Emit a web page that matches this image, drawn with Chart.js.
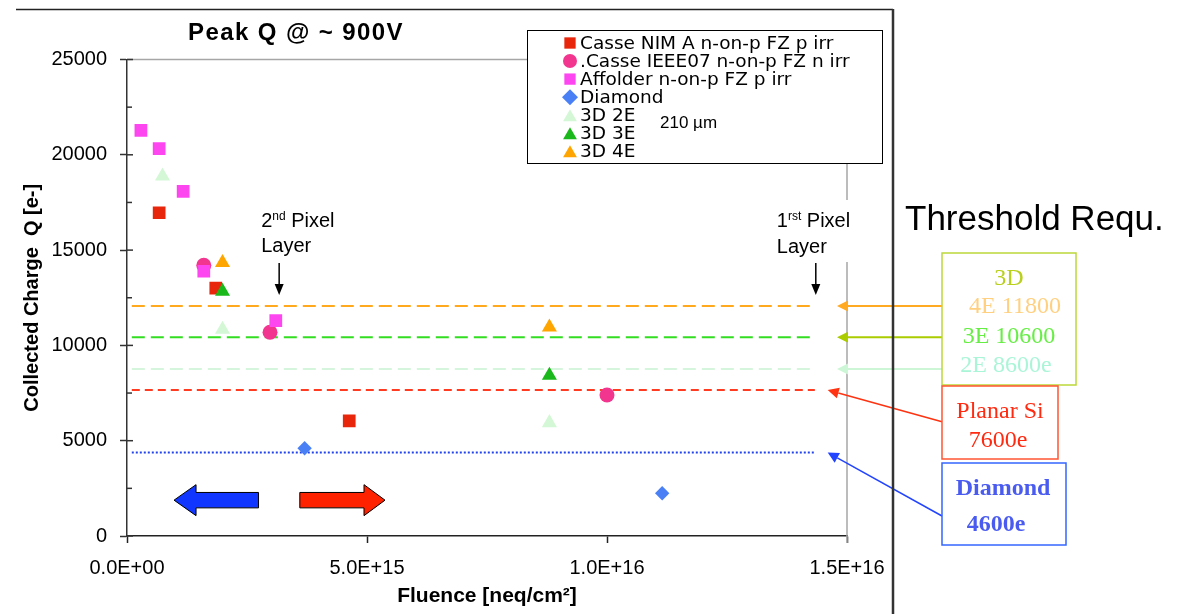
<!DOCTYPE html>
<html>
<head>
<meta charset="utf-8">
<title>Peak Q @ ~ 900V</title>
<script src="https://cdn.jsdelivr.net/npm/chart.js@4.4.1/dist/chart.umd.min.js"></script>
<style>
  html, body { margin: 0; padding: 0; background: #fff; }
  #peakChart { display: block; }
</style>
</head>
<body>
<canvas id="peakChart" width="1177" height="614"></canvas>
<script>
// ---- data (fluence in neq/cm2, charge in electrons) ----
const fluenceCasseNim = [0.67e15, 1.85e15, 4.63e15];
const chargeCasseNim = [16960, 13010, 6035];

const fluenceCasseIeee = [1.6e15, 2.98e15, 10.0e15];
const chargeCasseIeee = [14200, 10690, 7400];

const fluenceAffolder = [0.29e15, 0.67e15, 1.17e15, 1.6e15, 3.1e15];
const chargeAffolder = [21285, 20320, 18085, 13890, 11300];

const fluenceDiamond = [3.7e15, 11.15e15];
const chargeDiamond = [4600, 2240];

const fluence3D2E = [0.74e15, 1.99e15, 8.8e15];
const charge3D2E = [18880, 10840, 5940];
const fluence3D3E = [1.99e15, 8.8e15];
const charge3D3E = [12830, 8425];
const fluence3D4E = [1.99e15, 8.8e15];
const charge3D4E = [14335, 10960];

// threshold lines: 3D 4E, 3D 3E, 3D 2E, planar Si, diamond
const thresholdLevels = [12070, 10425, 8760, 7660, 4380];
const thresholdSpan = [0.1e15, 14.33e15];

// pixel layer fluences (2nd, 1st)
const layerFluence = [3.17e15, 14.35e15];

const xTickLabels = ['0.0E+00', '5.0E+15', '1.0E+16', '1.5E+16'];
const yTickLabels = ['0', '5000', '10000', '15000', '20000', '25000'];

const SANS = '"Liberation Sans", Arial, sans-serif';
const VERDANA = '"DejaVu Sans", Verdana, sans-serif';
const SERIF = '"Liberation Serif", "Times New Roman", serif';

function pts(xs, ys) {
  return xs.map((x, i) => ({ x, y: ys[i] }));
}

function markerSet(label, xs, ys, color, style, radius) {
  return {
    label,
    data: pts(xs, ys),
    backgroundColor: color,
    borderColor: color,
    pointStyle: style,
    pointRadius: radius,
    pointHoverRadius: radius,
    pointBorderWidth: 0,
    showLine: false
  };
}

function thresholdSet(level, color, dash) {
  return {
    label: 'threshold ' + level,
    isThreshold: true,
    data: pts(thresholdSpan, [level, level]),
    borderColor: color,
    borderWidth: 2,
    borderDash: dash,
    showLine: true,
    pointRadius: 0,
    pointHoverRadius: 0,
    fill: false
  };
}

const markerSets = [
  markerSet('Casse NIM A n-on-p FZ p irr', fluenceCasseNim, chargeCasseNim, '#e8260c', 'rect', 9),
  markerSet('.Casse IEEE07 n-on-p FZ n irr', fluenceCasseIeee, chargeCasseIeee, '#f2368f', 'circle', 7.5),
  markerSet('Affolder n-on-p FZ p irr', fluenceAffolder, chargeAffolder, '#fd46f0', 'rect', 9),
  markerSet('Diamond', fluenceDiamond, chargeDiamond, '#4a80f5', 'rectRot', 7.2),
  markerSet('3D 2E', fluence3D2E, charge3D2E, '#d4f7d6', 'triangle', 8.7),
  markerSet('3D 3E', fluence3D3E, charge3D3E, '#1ab81a', 'triangle', 8.7),
  markerSet('3D 4E', fluence3D4E, charge3D4E, '#ffa500', 'triangle', 8.7)
];
markerSets.forEach((ds, i) => { ds.order = markerSets.length - i; });

const thresholdColors = ['#ffaa1e', '#33dd22', '#d5f5dc', '#ff3b22', '#2244ee'];
const thresholdDashes = [[13, 6], [13, 6], [13, 6], [8, 5], [2, 2]];
const thresholdSets = thresholdLevels.map((lvl, i) => {
  const ds = thresholdSet(lvl, thresholdColors[i], thresholdDashes[i]);
  ds.order = 100;
  return ds;
});

function formatSci(v) {
  const i = Math.round(v / 5e15);
  return xTickLabels[i] !== undefined ? xTickLabels[i] : '';
}

// ---- drawing helpers ----
function blockArrow(ctx, xTail, xTip, yc, headLen, headHalf, shaftHalf, fill) {
  const dir = Math.sign(xTip - xTail);
  const xBase = xTip - dir * headLen;
  ctx.beginPath();
  ctx.moveTo(xTail, yc - shaftHalf);
  ctx.lineTo(xBase, yc - shaftHalf);
  ctx.lineTo(xBase, yc - headHalf);
  ctx.lineTo(xTip, yc);
  ctx.lineTo(xBase, yc + headHalf);
  ctx.lineTo(xBase, yc + shaftHalf);
  ctx.lineTo(xTail, yc + shaftHalf);
  ctx.closePath();
  ctx.fillStyle = fill;
  ctx.fill();
  ctx.lineWidth = 1;
  ctx.strokeStyle = '#000';
  ctx.stroke();
}

function lineArrow(ctx, x0, y0, x1, y1, color, width, headLen, headHalf) {
  const ang = Math.atan2(y1 - y0, x1 - x0);
  const bx = x1 - Math.cos(ang) * headLen;
  const by = y1 - Math.sin(ang) * headLen;
  ctx.strokeStyle = color;
  ctx.fillStyle = color;
  ctx.lineWidth = width;
  ctx.setLineDash([]);
  ctx.beginPath();
  ctx.moveTo(x0, y0);
  ctx.lineTo(bx, by);
  ctx.stroke();
  ctx.beginPath();
  ctx.moveTo(x1, y1);
  ctx.lineTo(bx - Math.sin(ang) * headHalf, by + Math.cos(ang) * headHalf);
  ctx.lineTo(bx + Math.sin(ang) * headHalf, by - Math.cos(ang) * headHalf);
  ctx.closePath();
  ctx.fill();
}

function supText(ctx, x, y, base, sup, rest, size) {
  ctx.font = size + 'px ' + SANS;
  ctx.fillText(base, x, y);
  x += ctx.measureText(base).width;
  const small = Math.round(size * 0.62);
  ctx.font = small + 'px ' + SANS;
  ctx.fillText(sup, x, y - size * 0.36);
  x += ctx.measureText(sup).width;
  ctx.font = size + 'px ' + SANS;
  ctx.fillText(' ' + rest, x, y);
}

const decorations = {
  id: 'decorations',
  beforeDatasetsDraw(chart) {
    const { ctx, chartArea: a, scales: { y } } = chart;
    ctx.save();
    // grey frame on top and right of the plot area
    ctx.strokeStyle = '#a6a6a6';
    ctx.lineWidth = 1.5;
    ctx.beginPath();
    ctx.moveTo(a.left, a.top);
    ctx.lineTo(a.right, a.top);
    ctx.lineTo(a.right, a.bottom + 7);
    ctx.stroke();
    // inside tick marks on the value axis
    ctx.strokeStyle = '#333';
    ctx.lineWidth = 1.5;
    y.ticks.forEach(t => {
      const py = y.getPixelForValue(t.value);
      const len = t.value % 5000 === 0 ? 6 : 5;
      ctx.beginPath();
      ctx.moveTo(a.left, py);
      ctx.lineTo(a.left + len, py);
      ctx.stroke();
    });
    ctx.restore();
  },
  afterDatasetsDraw(chart) {
    const { ctx, scales: { x, y } } = chart;
    ctx.save();
    ctx.setLineDash([]);

    // big direction arrows
    const yArrow = y.getPixelForValue(1880);
    blockArrow(ctx, x.getPixelForValue(2.74e15), x.getPixelForValue(0.98e15), yArrow, 22, 15.5, 7.7, '#1136ff');
    blockArrow(ctx, x.getPixelForValue(3.6e15), x.getPixelForValue(5.375e15), yArrow, 21, 15.5, 7.7, '#ff2200');

    // pixel layer labels
    const lx2 = x.getPixelForValue(layerFluence[0]);
    const lx1 = x.getPixelForValue(layerFluence[1]);
    ctx.fillStyle = '#fff';
    ctx.fillRect(lx1 - 44, 200, 92, 62);
    ctx.fillStyle = '#000';
    ctx.textAlign = 'left';
    ctx.textBaseline = 'alphabetic';
    supText(ctx, lx2 - 18, 227, '2', 'nd', 'Pixel', 20);
    ctx.font = '20px ' + SANS;
    ctx.fillText('Layer', lx2 - 18, 252);
    supText(ctx, lx1 - 39, 227, '1', 'rst', 'Pixel', 20);
    ctx.font = '20px ' + SANS;
    ctx.fillText('Layer', lx1 - 39, 253);
    [lx2, lx1].forEach(px => lineArrow(ctx, px, 263, px, 295, '#000', 1.5, 11, 4.5));

    // legend box
    ctx.fillStyle = '#fff';
    ctx.fillRect(527.5, 30.5, 355, 133);
    ctx.strokeStyle = '#000';
    ctx.lineWidth = 1;
    ctx.strokeRect(527.5, 30.5, 355, 133);
    const items = chart.data.datasets.filter(ds => !ds.isThreshold);
    items.forEach((ds, i) => {
      const ry = 43 + i * 18.05;
      ctx.fillStyle = ds.backgroundColor;
      Chart.helpers.drawPoint(ctx, { pointStyle: ds.pointStyle, radius: ds.pointStyle === 'circle' ? 7 : 8, rotation: 0, borderWidth: 0 }, 570, ds.pointStyle === 'triangle' ? ry + 2 : ry);
      ctx.fillStyle = '#000';
      ctx.font = '18.5px ' + VERDANA;
      ctx.textBaseline = 'middle';
      ctx.fillText(ds.label, 580, ry + 1);
    });
    ctx.font = '17px ' + SANS;
    ctx.fillText('210 \u00b5m', 660, 123);

    // threshold boxes and arrows on the right
    ctx.textBaseline = 'alphabetic';
    ctx.font = '35px ' + SANS;
    ctx.fillStyle = '#000';
    ctx.fillText('Threshold Requ.', 905, 230);

    const tipY = thresholdLevels.map(v => y.getPixelForValue(v));
    lineArrow(ctx, 942, tipY[0], 837, tipY[0], '#ffaa22', 2, 11, 5.5);
    lineArrow(ctx, 942, tipY[1], 837, tipY[1], '#aacc00', 2, 11, 5.5);
    lineArrow(ctx, 942, tipY[2], 837, tipY[2], '#cdf6d6', 2, 11, 5.5);
    lineArrow(ctx, 942, 421.7, 827.7, tipY[3], '#ff3311', 1.5, 11, 5.5);
    lineArrow(ctx, 942, 516, 827.7, tipY[4], '#2244ff', 1.5, 11, 5.5);

    ctx.lineWidth = 1.5;
    ctx.fillStyle = '#fff';
    ctx.strokeStyle = '#bcd83a';
    ctx.fillRect(942, 253, 134, 132);
    ctx.strokeRect(942, 253, 134, 132);
    ctx.strokeStyle = '#ff5533';
    ctx.fillRect(942, 386, 116, 73);
    ctx.strokeRect(942, 386, 116, 73);
    ctx.strokeStyle = '#3366ff';
    ctx.fillRect(942, 463, 124, 82);
    ctx.strokeRect(942, 463, 124, 82);

    ctx.textAlign = 'center';
    ctx.font = '24px ' + SERIF;
    ctx.fillStyle = '#b8cf1c';
    ctx.fillText('3D', 1009, 285);
    ctx.fillStyle = '#ffd080';
    ctx.fillText('4E 11800', 1015, 312.5);
    ctx.fillStyle = '#66ee44';
    ctx.fillText('3E 10600', 1009, 342.5);
    ctx.fillStyle = '#aaf5d8';
    ctx.fillText('2E 8600e', 1006, 371.5);
    ctx.fillStyle = '#ff2a10';
    ctx.fillText('Planar Si', 1000, 417.5);
    ctx.fillText('7600e', 998, 446.5);
    ctx.font = 'bold 24px ' + SERIF;
    ctx.fillStyle = '#4a5cf0';
    ctx.fillText('Diamond', 1003, 495);
    ctx.fillText('4600e', 996, 531);

    // chart title (the original is set a little wider than Arial)
    ctx.font = 'bold 24px ' + SANS;
    ctx.fillStyle = '#000';
    ctx.textAlign = 'left';
    if ('letterSpacing' in ctx) ctx.letterSpacing = '1.4px';
    const tw = ctx.measureText('Peak Q @ ~ 900V').width;
    ctx.fillText('Peak Q @ ~ 900V', 296 - tw / 2, 40);
    if ('letterSpacing' in ctx) ctx.letterSpacing = '0px';

    // outer figure border lines
    ctx.strokeStyle = '#222';
    ctx.lineWidth = 1.5;
    ctx.beginPath();
    ctx.moveTo(16, 9.5);
    ctx.lineTo(893, 9.5);
    ctx.stroke();
    ctx.strokeStyle = '#333';
    ctx.lineWidth = 2.5;
    ctx.beginPath();
    ctx.moveTo(893, 9);
    ctx.lineTo(893, 614);
    ctx.stroke();
    ctx.restore();
  }
};

const chart = new Chart(document.getElementById('peakChart'), {
  type: 'scatter',
  data: { datasets: [...markerSets, ...thresholdSets] },
  options: {
    responsive: false,
    animation: false,
    events: [],
    layout: { padding: { top: 59.5, right: 330, bottom: 0, left: 0 } },
    plugins: {
      legend: { display: false },
      title: { display: false },
      tooltip: { enabled: false }
    },
    scales: {
      x: {
        type: 'linear',
        min: 0,
        max: 1.5e16,
        afterFit: s => { s.height = 78; },
        border: { display: true, color: '#222', width: 1.5 },
        grid: { drawOnChartArea: false, drawTicks: true, tickLength: 7, tickColor: '#222', tickWidth: 1.5 },
        ticks: {
          stepSize: 5e15,
          autoSkip: false,
          maxRotation: 0,
          padding: 13,
          color: '#000',
          font: { family: SANS, size: 20 },
          callback: v => formatSci(v)
        },
        title: {
          display: true,
          text: 'Fluence [neq/cm\u00b2]',
          color: '#000',
          font: { family: SANS, size: 21, weight: 'bold' },
          padding: { top: 0, bottom: 5 }
        }
      },
      y: {
        type: 'linear',
        min: 0,
        max: 25000,
        afterFit: s => { s.width = 127; },
        border: { display: true, color: '#333', width: 1.5 },
        grid: {
          drawOnChartArea: false,
          drawTicks: true,
          tickLength: 7,
          tickWidth: 1.5,
          tickColor: c => (c.tick && c.tick.value % 5000 === 0 ? '#333' : 'rgba(0,0,0,0)')
        },
        ticks: {
          stepSize: 2500,
          autoSkip: false,
          padding: 13,
          color: '#000',
          font: { family: SANS, size: 20 },
          callback: v => (v % 5000 === 0 ? yTickLabels[v / 5000] : '')
        },
        title: {
          display: true,
          text: 'Collected Charge  Q [e-]',
          color: '#000',
          font: { family: SANS, size: 20, weight: 'bold' },
          padding: { top: 20, bottom: 0 }
        }
      }
    }
  },
  plugins: [decorations]
});
</script>
</body>
</html>
